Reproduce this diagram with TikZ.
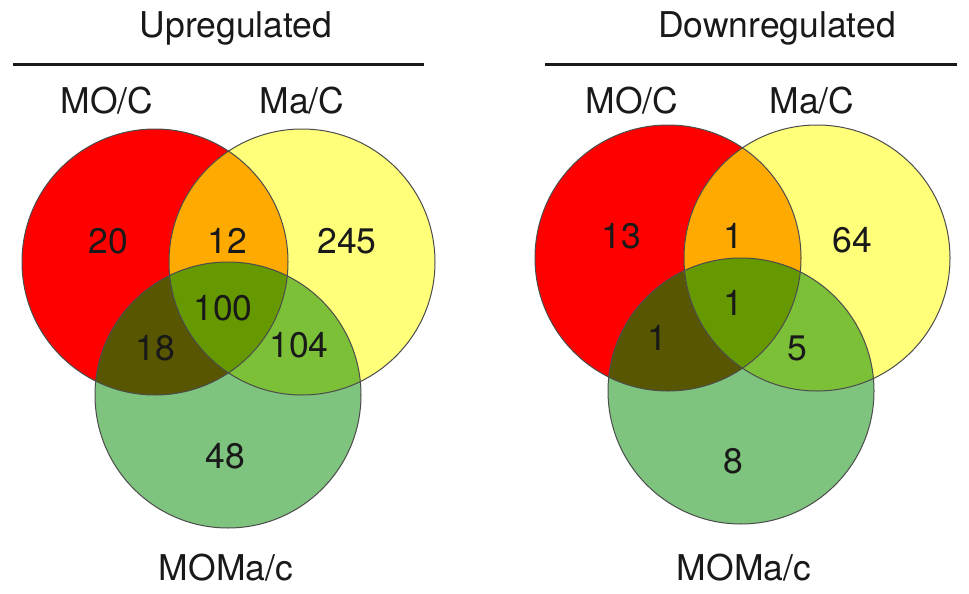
\documentclass[tikz,border=0pt]{standalone}
\usepackage{fontspec}
\setmainfont{TeX Gyre Heros}
\definecolor{cRed}{RGB}{255,0,0}
\definecolor{cYel}{RGB}{255,255,122}
\definecolor{cGrn}{RGB}{126,195,126}
\definecolor{cOra}{RGB}{255,170,0}
\definecolor{cOli}{RGB}{88,86,0}
\definecolor{cYG}{RGB}{124,192,56}
\definecolor{cCen}{RGB}{102,152,0}
\tikzset{
  lbl/.style={anchor=base, inner sep=0pt, text=black!90, font=\fontsize{35.5}{42}\selectfont},
  outline/.style={draw=black!70, line width=1pt},
  rule/.style={line width=3pt, black!90}
}
% #1 red centre, #2 yellow centre, #3 green centre
\newcommand\myvenn[3]{%
  \fill[cRed] #1 circle[radius=133pt];
  \fill[cYel] #2 circle[radius=133pt];
  \fill[cGrn] #3 circle[radius=133pt];
  \begin{scope}\clip #1 circle[radius=133pt];
    \fill[cOra] #2 circle[radius=133pt];
    \fill[cOli] #3 circle[radius=133pt];
  \end{scope}
  \begin{scope}\clip #2 circle[radius=133pt];
    \fill[cYG] #3 circle[radius=133pt];
  \end{scope}
  \begin{scope}\clip #1 circle[radius=133pt];\clip #2 circle[radius=133pt];
    \fill[cCen] #3 circle[radius=133pt];
  \end{scope}
  \draw[outline] #1 circle[radius=133pt];
  \draw[outline] #2 circle[radius=133pt];
  \draw[outline] #3 circle[radius=133pt];
}
\begin{document}
\begin{tikzpicture}[x=1pt,y=-1pt]
\useasboundingbox (0,0) rectangle (969,594);
% left panel
\myvenn{(155,262)}{(302,262)}{(228,395)}
\node[lbl] (upt) at (236,37.5) {Upregulated};
\coordinate (lr1) at (13,65);
\coordinate (lr2) at (424,65);
\draw[rule] (lr1) -- (lr2);
\node[lbl] (lmo) at (107,113) {MO/C};
\node[lbl] (lma) at (302,113) {Ma/C};
\node[lbl] (lmoma) at (226,580) {MOMa/c};
\node[lbl] (l20) at (108,253) {20};
\node[lbl] (l12) at (227,253) {12};
\node[lbl] (l245) at (347,253) {245};
\node[lbl] (l100) at (223,320) {100};
\node[lbl] (l18) at (155,360) {18};
\node[lbl] (l104) at (299,357) {104};
\node[lbl] (l48) at (225,468) {48};
% right panel
\myvenn{(668,258)}{(817,258)}{(741,391)}
\node[lbl] (dnt) at (777,37.5) {Downregulated};
\coordinate (rr1) at (545,65);
\coordinate (rr2) at (957,65);
\draw[rule] (rr1) -- (rr2);
\node[lbl] (rmo) at (632,113) {MO/C};
\node[lbl] (rma) at (812,113) {Ma/C};
\node[lbl] (rmoma) at (744,580) {MOMa/c};
\node[lbl] (r13) at (621,248) {13};
\node[lbl] (r1a) at (733,248) {1};
\node[lbl] (r64) at (852,252) {64};
\node[lbl] (r1b) at (733,315) {1};
\node[lbl] (r1c) at (657,350) {1};
\node[lbl] (r5) at (797,360) {5};
\node[lbl] (r8) at (733,473) {8};
\end{tikzpicture}
\end{document}
